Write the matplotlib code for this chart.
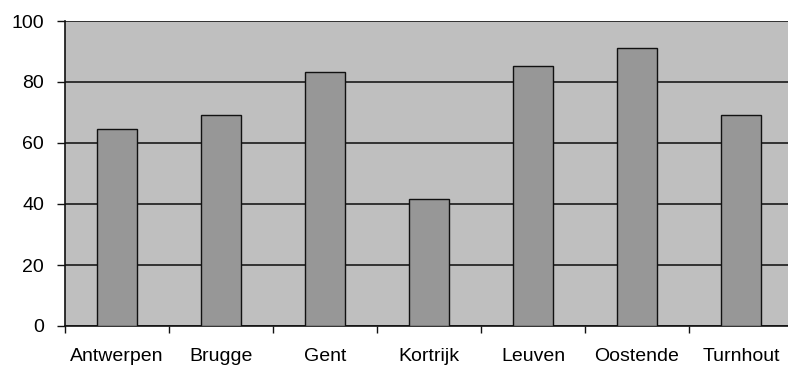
import numpy as np
import matplotlib.pyplot as plt

plt.rcParams['font.family'] = ['Liberation Sans', 'DejaVu Sans']

# Data
cities = ["Antwerpen", "Brugge", "Gent", "Kortrijk", "Leuven", "Oostende", "Turnhout"]
values = [64.6, 69.2, 83.3, 41.6, 85.2, 91.1, 69.2]
yticks = [0, 20, 40, 60, 80, 100]

fig = plt.figure(figsize=(7.88, 3.86), dpi=100)
# plot area runs a little past the right edge of the picture
ax = fig.add_axes([65 / 788, 1 - 326 / 386, 728 / 788, 305 / 386])
ax.set_facecolor("#bfbfbf")

x = np.arange(len(cities)) + 0.5
ax.bar(x, values, width=0.385, color="#979797", edgecolor="#111111", linewidth=1.0, zorder=3)

ax.set_xlim(0, len(cities))
ax.set_ylim(0, 100)
ax.set_yticks(yticks)
ax.yaxis.grid(True, color="#1a1a1a", linewidth=1.2, zorder=1)
ax.set_axisbelow(True)

# category labels centered, ticks at category borders
ax.set_xticks(np.arange(len(cities) + 1))
ax.set_xticklabels([])
ax.set_xticks(x, minor=True)
ax.set_xticklabels(cities, minor=True)
ax.tick_params(axis="x", which="major", length=5, width=1, direction="out", color="#111111")
ax.tick_params(axis="x", which="minor", length=0, pad=16, labelsize=14)
ax.tick_params(axis="y", length=6, width=1, direction="out", pad=9, labelsize=14, color="#111111")

for side in ["top", "right"]:
    ax.spines[side].set_visible(False)
ax.spines["left"].set_color("#111111")
ax.spines["bottom"].set_color("#111111")
ax.spines["left"].set_linewidth(1.2)
ax.spines["bottom"].set_linewidth(1.2)

fig.savefig("out.png", dpi=100)
